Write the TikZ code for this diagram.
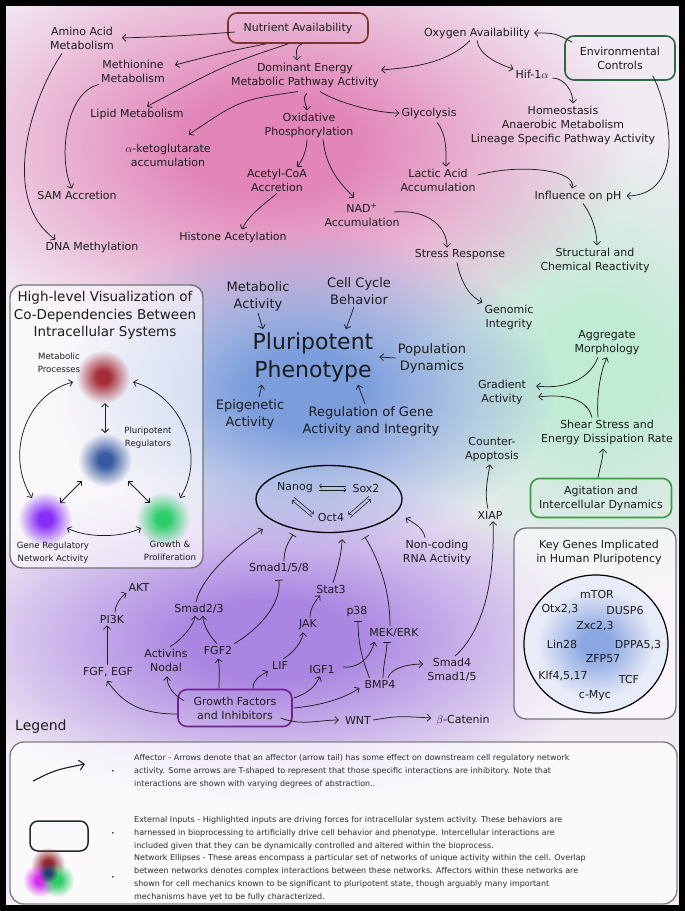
\documentclass[tikz,border=0pt]{standalone}
\usepackage{fontspec}
\setmainfont{DejaVu Sans}
\usetikzlibrary{arrows.meta,fadings,shapes.geometric}
\pgfdeclareradialshading{softsh}{\pgfpointorigin}{rgb(0bp)=(1,1,1); rgb(6bp)=(1,1,1); rgb(25bp)=(0,0,0); rgb(50bp)=(0,0,0)}
\pgfdeclarefading{softc}{\pgfuseshading{softsh}}
\definecolor{bgbase}{RGB}{242,235,244}
\definecolor{pinkc}{RGB}{226,134,185}
\definecolor{bluec}{RGB}{124,158,220}
\definecolor{purpc}{RGB}{170,134,226}
\definecolor{greenc}{RGB}{192,236,212}
\definecolor{txt}{RGB}{28,28,28}
\definecolor{lnc}{RGB}{30,30,30}
\definecolor{nutc}{RGB}{125,50,50}
\definecolor{envc}{RGB}{45,105,65}
\definecolor{gfc}{RGB}{110,35,145}
\definecolor{agc}{RGB}{60,155,65}
\definecolor{panelc}{RGB}{115,115,120}
\definecolor{legtxt}{RGB}{45,45,45}
\definecolor{redbl}{RGB}{165,45,55}
\definecolor{bluebl}{RGB}{55,90,160}
\definecolor{purpbl}{RGB}{135,45,245}
\definecolor{greenbl}{RGB}{45,205,105}
\definecolor{kgblue}{RGB}{140,168,226}
\definecolor{kgbg}{RGB}{232,235,248}
\definecolor{legrect}{RGB}{30,45,35}
\definecolor{magbl}{RGB}{215,40,240}
\newcommand{\fsz}[2]{\fontsize{#1}{#2}\selectfont}
\begin{document}
\begin{tikzpicture}[x=1pt,y=-1pt,
 lbl/.style={font=\fsz{11}{14}, align=center, inner sep=2pt, text=txt},
 midl/.style={font=\fsz{13}{17}, align=center, inner sep=2pt, text=txt},
 sml/.style={font=\fsz{8.6}{13}, align=center, inner sep=1pt, text=txt},
 ttl/.style={font=\fsz{13.5}{17.5}, align=center, inner sep=1pt, text=txt},
 legt/.style={font=\fsz{8}{13}, align=left, anchor=west, inner sep=0pt, text=legtxt},
 ibox/.style={draw=#1, line width=1.6pt, rounded corners=9pt, align=center, font=\fsz{11}{14}, text=txt, inner sep=2pt},
 con/.style={draw=lnc, line width=0.75pt, -{Straight Barb[length=3.5pt,width=7pt]}},
 inh/.style={draw=lnc, line width=0.75pt, -{Bar[width=8pt]}},
 dbl/.style={draw=lnc, line width=0.75pt, {Straight Barb[length=3.5pt,width=7pt]}-{Straight Barb[length=3.5pt,width=7pt]}},
 sm/.style={draw=lnc, line width=0.6pt, -{Straight Barb[length=2.2pt,width=4.5pt]}},
 gene/.style={font=\fsz{11}{14}, inner sep=1pt, text=txt}
]
\useasboundingbox (0,0) rectangle (685,911);
% ---------- background ----------
\begin{scope}
\clip (0,0) rectangle (685,911);
\fill[bgbase] (0,0) rectangle (685,911);
\fill[greenc, path fading=softc] (600,370) ellipse (225 and 235);
\fill[pinkc, path fading=softc] (270,145) ellipse (360 and 215);
\fill[purpc, path fading=softc] (270,640) ellipse (345 and 165);
\fill[bluec, path fading=softc] (305,390) ellipse (250 and 160);
\end{scope}

% ---------- left panel ----------
\draw[draw=panelc, line width=1.4pt, rounded corners=12pt, fill=white, fill opacity=0.6] (10,285) rectangle (203,568);
\node[ttl] (ptitle) at (105,315.5) {High-level Visualization of\\Co-Dependencies Between\\Intracellular Systems};
\coordinate (redb) at (103,377);
\coordinate (blueb) at (105,460);
\coordinate (purpb) at (45,519);
\coordinate (greenb) at (163,519);
\fill[redbl, path fading=softc] (redb) circle (27);
\fill[bluebl, path fading=softc] (blueb) circle (27);
\fill[purpbl, path fading=softc] (purpb) circle (27);
\fill[greenbl, path fading=softc] (greenb) circle (27);
\node[sml] (mp) at (59,363) {Metabolic\\Processes};
\node[sml] (prl) at (148,438) {Pluripotent\\Regulators};
\node[sml] (grn) at (53,553) {Gene Regulatory\\Network Activity};
\node[sml] (gpr) at (170,551) {Growth \&\\Proliferation};
\draw[dbl] ([shift={(2,26)}]redb) -- ([shift={(0,-27)}]blueb);
\draw[dbl] ([shift={(-23,21)}]blueb) -- ([shift={(15,-16)}]purpb);
\draw[dbl] ([shift={(23,21)}]blueb) -- ([shift={(-13,-16)}]greenb);
\draw[dbl] ([shift={(22,9)}]purpb) .. controls +(20,10) and +(-20,10) .. ([shift={(-22,9)}]greenb);
\draw[dbl] ([shift={(-30,5)}]redb) .. controls +(-48,13) and +(-27,-43) .. ([shift={(-13,-21)}]purpb);
\draw[dbl] ([shift={(30,5)}]redb) .. controls +(48,13) and +(27,-43) .. ([shift={(17,-21)}]greenb);

% ---------- key genes panel ----------
\draw[draw=panelc, line width=1.3pt, rounded corners=12pt, fill=white, fill opacity=0.55] (514,528) rectangle (676,719);
\node[lbl] (kgt) at (599,552) {Key Genes Implicated\\in Human Pluripotency};
\coordinate (kgc) at (596,644);
\begin{scope}
\clip (kgc) ellipse (72 and 69);
\fill[kgbg] (kgc) ellipse (72 and 69);
\fill[kgblue, path fading=softc] (kgc) ellipse (58 and 55);
\end{scope}
\draw[black, line width=1.2pt] (kgc) ellipse (72 and 69);
\node[gene] (g1) at (597,594) {mTOR};
\node[gene] (g2) at (560,609) {Otx2,3};
\node[gene] (g3) at (625,610) {DUSP6};
\node[gene] (g4) at (595,626) {Zxc2,3};
\node[gene] (g5) at (562,644) {Lin28};
\node[gene] (g6) at (638,645) {DPPA5,3};
\node[gene] (g7) at (603,659) {ZFP57};
\node[gene] (g8) at (563,676) {Klf4,5,17};
\node[gene] (g9) at (629,679) {TCF};
\node[gene] (g10) at (595,696) {c-Myc};

% ---------- top nodes ----------
\node[ibox=nutc, minimum width=140pt, minimum height=30pt] (nut) at (298,28) {Nutrient Availability};
\node[lbl] (amino) at (82,38) {Amino Acid\\Metabolism};
\node[lbl] (meth) at (133,71) {Methionine\\Metabolism};
\node[lbl] (lipid) at (137,114) {Lipid Metabolism};
\node[lbl] (akg) at (168,155) {$\alpha$-ketoglutarate\\accumulation};
\node[lbl] (sam) at (77,195) {SAM Accretion};
\node[lbl] (dna) at (92,247) {DNA Methylation};
\node[lbl] (dom) at (305,75) {Dominant Energy\\Metabolic Pathway Activity};
\node[lbl] (oxphos) at (309,125) {Oxidative\\Phosphorylation};
\node[lbl] (glyc) at (429,113) {Glycolysis};
\node[lbl] (oxy) at (477,33) {Oxygen Availability};
\node[ibox=envc, minimum width=110pt, minimum height=44pt] (env) at (620,58) {Environmental\\Controls};
\node[lbl] (hif) at (532,74) {Hif-1$\alpha$};
\node[lbl] (homeo) at (563,125) {Homeostasis\\Anaerobic Metabolism\\Lineage Specific Pathway Activity};
\node[lbl] (lactic) at (438,180) {Lactic Acid\\Accumulation};
\node[lbl] (ph) at (578,196) {Influence on pH};
\node[lbl] (acetyl) at (277,180) {Acetyl-CoA\\Accretion};
\node[lbl] (nad) at (362,215) {NAD\textsuperscript{+}\\Accumulation};
\node[lbl] (histone) at (233,237) {Histone Acetylation};
\node[lbl] (stress) at (460,255) {Stress Response};
\node[lbl] (struct) at (595,260) {Structural and\\Chemical Reactivity};
\node[lbl] (genomic) at (509,317) {Genomic\\Integrity};

% ---------- middle ----------
\node[font=\fsz{22}{28}, align=center, inner sep=2pt, text=txt] (pluri) at (313,357) {Pluripotent\\Phenotype};
\node[midl] (metab) at (258,296) {Metabolic\\Activity};
\node[midl] (cell) at (359,291) {Cell Cycle\\Behavior};
\node[midl] (pop) at (432,358) {Population\\Dynamics};
\node[midl] (epi) at (250,414) {Epigenetic\\Activity};
\node[midl] (reg) at (371,421) {Regulation of Gene\\Activity and Integrity};

% ---------- right ----------
\node[lbl] (aggr) at (607,343) {Aggregate\\Morphology};
\node[lbl] (grad) at (502,392) {Gradient\\Activity};
\node[lbl] (shear) at (607,432) {Shear Stress and\\Energy Dissipation Rate};
\node[ibox=agc, minimum width=141pt, minimum height=39pt] (agit) at (601,498) {Agitation and\\Intercellular Dynamics};
\node[lbl] (counter) at (492,450) {Counter-\\Apoptosis};
\node[lbl] (xiap) at (490,515) {XIAP};
\node[lbl] (ncrna) at (437,552) {Non-coding\\RNA Activity};

% ---------- core ellipse ----------
\node[ellipse, draw=black, line width=1.3pt, minimum width=146pt, minimum height=67pt, inner sep=0pt] (ell) at (329,499) {};
\node[lbl] (nanog) at (295,488) {Nanog};
\node[lbl] (sox2) at (366,488) {Sox2};
\node[lbl] (oct4) at (331,517) {Oct4};

% ---------- signalling ----------
\node[lbl] (smad158) at (279,568) {Smad1/5/8};
\node[lbl] (stat3) at (331,589) {Stat3};
\node[lbl] (smad23) at (199,609) {Smad2/3};
\node[lbl] (jak) at (308,625) {JAK};
\node[lbl] (p38) at (357,612) {p38};
\node[lbl] (mek) at (394,633) {MEK/ERK};
\node[lbl] (activ) at (166,660) {Activins\\Nodal};
\node[lbl] (fgf2) at (218,650) {FGF2};
\node[lbl] (lif) at (280,665) {LIF};
\node[lbl] (igf1) at (322,669) {IGF1};
\node[lbl] (bmp4) at (380,684) {BMP4};
\node[lbl] (smad4) at (452,670) {Smad4\\Smad1/5};
\node[lbl] (fgfegf) at (108,672) {FGF, EGF};
\node[lbl] (pi3k) at (112,619) {PI3K};
\node[lbl] (akt) at (139,587) {AKT};
\node[ibox=gfc, minimum width=114pt, minimum height=37pt] (gf) at (235,708) {Growth Factors\\and Inhibitors};
\node[lbl] (wnt) at (358,720) {WNT};
\node[lbl] (beta) at (463,720) {$\beta$-Catenin};

% ---------- connectors: top ----------
\draw[con] ([shift={(8,4)}]nut.west) .. controls (180,36) .. ([shift={(6,0)}]amino.east);
\draw[con] ([shift={(39,0)}]nut.south west) .. controls (225,52) .. ([shift={(8,-6)}]meth.east);
\draw[con] ([shift={(61,0)}]nut.south west) .. controls (225,65) .. ([shift={(10,0)}]lipid.north);
\draw[con] ([shift={(4,0)}]nut.south) .. controls +(-8,4) and +(0,-8) .. ([shift={(-8,0)}]dom.north);
\draw[con] ([shift={(-20,2)}]amino.south) .. controls (30,100) and (0,200) .. ([shift={(12,0)}]dna.north west);
\draw[con] (meth.south west) .. controls (65,92) and (58,160) .. ([shift={(-5,0)}]sam.north);
\draw[con] ([shift={(-7,2)}]dom.south) .. controls (240,100) .. ([shift={(-24,-7)}]akg.north east);
\draw[con] ([shift={(2,4)}]dom.south) .. controls +(-6,4) and +(0,-5) .. ([shift={(-2,0)}]oxphos.north);
\draw[con] ([shift={(15,2)}]dom.south) .. controls +(15,10) and +(-25,0) .. (glyc.west);
\draw[con] ([shift={(-7,0)}]oxy.south) .. controls +(-20,20) and +(40,-3) .. ([shift={(0,-5)}]dom.east);
\draw[con] (oxy.south) .. controls +(2,15) and +(-15,-5) .. ([shift={(0,-5)}]hif.west);
\draw[con] ([shift={(8,7)}]env.north west) .. controls (555,33) .. ([shift={(2,0)}]oxy.east);
\draw[con] ([shift={(-23,-5)}]env.south east) .. controls (670,110) and (687,195) .. ([shift={(3,0)}]ph.east);
\draw[con] ([shift={(2,4)}]hif.east) .. controls +(12,0) and +(0,-12) .. ([shift={(10,0)}]homeo.north);
\draw[con] ([shift={(-2,0)}]oxphos.south) .. controls +(0,10) and +(5,-5) .. ([shift={(20,0)}]acetyl.north);
\draw[con] ([shift={(14,0)}]oxphos.south) .. controls +(3,30) and +(-12,-12) .. ([shift={(-8,-4)}]nad.north);
\draw[con] ([shift={(8,2)}]glyc.south) .. controls +(10,12) and +(0,-15) .. ([shift={(8,0)}]lactic.north);
\draw[con] ([shift={(0,-5)}]lactic.east) .. controls +(45,-12) and +(5,-18) .. ([shift={(-6,0)}]ph.north);
\draw[con] (acetyl.south) .. controls +(-15,12) and +(5,-12) .. ([shift={(9,0)}]histone.north);
\draw[con] ([shift={(32,-3)}]nad.center) .. controls +(35,-3) and +(0,-20) .. ([shift={(-13,0)}]stress.north);
\draw[con] ([shift={(5,0)}]ph.south) .. controls +(8,10) and +(0,-15) .. ([shift={(2,0)}]struct.north);
\draw[con] ([shift={(-3,0)}]stress.south) .. controls +(5,25) and +(-10,-5) .. (genomic.north west);

% ---------- connectors: phenotype ----------
\draw[con] (metab.south) -- ([shift={(-50,-1)}]pluri.north);
\draw[con] ([shift={(-5,0)}]cell.south) -- ([shift={(33,-1)}]pluri.north);
\draw[con] (pop.west) -- ([shift={(4,0)}]pluri.east);
\draw[con] ([shift={(9,0)}]epi.north) -- ([shift={(-51,1)}]pluri.south);
\draw[con] ([shift={(-6,0)}]reg.north) -- ([shift={(45,1)}]pluri.south);

% ---------- connectors: right ----------
\draw[con] ([shift={(-9,0)}]shear.north) .. controls +(-2,-25) and +(-5,10) .. (aggr.south);
\draw[con] ([shift={(-15,0)}]shear.north) .. controls +(-5,-20) and +(25,-3) .. ([shift={(10,5)}]grad.east);
\draw[con] ([shift={(-9,0)}]aggr.south) .. controls +(-10,25) and +(25,3) .. ([shift={(8,-6)}]grad.east);
\draw[con] ([shift={(-3,0)}]agit.north) .. controls +(3,-15) and +(0,10) .. ([shift={(-4,2)}]shear.south);
\draw[con] ([shift={(-2,0)}]xiap.north) .. controls +(-4,-15) and +(-2,12) .. ([shift={(-2,0)}]counter.south);
\draw[con] ([shift={(3,0)}]smad4.north) .. controls +(28,-25) and +(2,60) .. ([shift={(3,0)}]xiap.south);
\draw[con] ([shift={(-12,0)}]ncrna.north) .. controls +(-2,-10) and +(8,5) .. ([shift={(3,19)}]ell.east);

% ---------- connectors: ellipse ----------
\draw[con] ([shift={(-3,0)}]smad23.north) .. controls +(5,-25) and +(-25,15) .. ([shift={(-14,6)}]ell.south west);
\draw[inh] ([shift={(5,0)}]smad158.north) .. controls +(0,-12) and +(-5,8) .. ([shift={(-36,1.5)}]ell.south);
\draw[con] ([shift={(2,0)}]stat3.north) .. controls +(5,-15) and +(0,12) .. ([shift={(13,6)}]ell.south);
\draw[inh] ([shift={(-4,0)}]mek.north) .. controls +(0,-40) and +(12,20) .. ([shift={(36,4)}]ell.south);
\draw[sm] ([shift={(-4,-2)}]sox2.west) -- ([shift={(4,-2)}]nanog.east);
\draw[sm] ([shift={(4,2)}]nanog.east) -- ([shift={(-4,2)}]sox2.west);
\draw[sm] ([shift={(-1,2)}]nanog.south) -- ([shift={(-2,-3)}]oct4.west);
\draw[sm] ([shift={(-4,0)}]oct4.west) -- ([shift={(-3,5)}]nanog.south);
\draw[sm] ([shift={(3,2)}]sox2.south) -- ([shift={(2,-2.4)}]oct4.east);
\draw[sm] ([shift={(4,0.4)}]oct4.east) -- ([shift={(5,4.8)}]sox2.south);

% ---------- connectors: signalling ----------
\draw[inh] (fgf2.north east) .. controls +(25,-15) and +(2,25) .. ([shift={(0,5)}]smad158.south);
\draw[con] ([shift={(4,0)}]activ.north) .. controls +(10,-5) and +(0,8) .. ([shift={(-4,0)}]smad23.south);
\draw[con] ([shift={(-1,0)}]fgf2.north) .. controls +(-8,-8) and +(0,8) .. ([shift={(4,0)}]smad23.south);
\draw[con] ([shift={(2,0)}]jak.north) .. controls +(0,-10) and +(-4,5) .. ([shift={(-11,0)}]stat3.south);
\draw[con] ([shift={(3,0)}]lif.north) .. controls +(10,-5) and +(0,8) .. ([shift={(-5,0)}]jak.south);
\draw[con] ([shift={(7,12)}]gf.north west) .. controls +(-10,-5) and +(0,10) .. ([shift={(1,3)}]activ.south);
\draw[con] ([shift={(0,6)}]gf.west) .. controls +(-40,0) and +(15,20) .. ([shift={(-1,2)}]fgfegf.south);
\draw[con] ([shift={(-16,0)}]gf.north) .. controls +(0,-10) and +(2,10) .. ([shift={(0,2)}]fgf2.south);
\draw[con] ([shift={(18,0)}]gf.north) .. controls +(0,-10) and +(-8,5) .. ([shift={(-2,0)}]lif.south west);
\draw[con] ([shift={(1,-10)}]gf.east) .. controls +(15,-5) and +(-5,10) .. ([shift={(-2,1)}]igf1.south);
\draw[con] ([shift={(1,0)}]gf.east) .. controls +(30,-3) and +(-15,10) .. ([shift={(-3,4)}]bmp4.west);
\draw[con] ([shift={(-12,10)}]gf.east) .. controls +(20,8) and +(-20,0) .. ([shift={(-4,0)}]wnt.west);
\draw[con] (wnt.east) .. controls +(25,-4) .. ([shift={(-3,-2)}]beta.west);
\draw[con] ([shift={(-1,0)}]fgfegf.north) -- ([shift={(-5,0)}]pi3k.south);
\draw[con] ([shift={(3,0)}]pi3k.north) .. controls +(0,-8) and +(-5,3) .. (akt.south west);
\draw[con] ([shift={(6,-2)}]igf1.east) .. controls +(20,2) and +(-2,10) .. ([shift={(7,2)}]mek.south west);
\draw[inh] ([shift={(7,0)}]bmp4.north west) .. controls +(-8,-20) and +(0,20) .. ([shift={(1,2)}]p38.south);
\draw[inh] ([shift={(3,0)}]bmp4.north) .. controls +(0,-12) and +(0,10) .. ([shift={(-7,2)}]mek.south);
\draw[con] ([shift={(8,0)}]bmp4.north) .. controls +(3,-10) and +(-15,0) .. ([shift={(-2,-6)}]smad4.west);

% ---------- legend ----------
\node[font=\fsz{14}{17}, anchor=west, inner sep=0pt, text=txt] (legtitle) at (15,727) {Legend};
\draw[draw=panelc!90, line width=1.4pt, rounded corners=14pt, fill=white, fill opacity=0.7] (10,742) rectangle (677,904);
\coordinate (la1) at (33,781);
\coordinate (la2) at (85,764);
\draw[lnc, line width=1.1pt, -{Straight Barb[length=5pt,width=10pt]}] (la1) .. controls (55,770) .. (la2);
\node[draw=legrect, line width=1.5pt, rounded corners=8pt, minimum width=58pt, minimum height=30pt] (lrect) at (59,836) {};
\fill[redbl!90!black, path fading=softc] (48,864) circle (17);
\fill[magbl, path fading=softc] (40,880) circle (17);
\fill[greenbl, path fading=softc] (57,880) circle (17);
\fill[bluebl!70!black, path fading=softc] (48,873) circle (10);
\node[font=\fsz{6}{7}, text=legtxt] (b1) at (113,772) {\textbullet};
\node[font=\fsz{6}{7}, text=legtxt] (b2) at (113,834) {\textbullet};
\node[font=\fsz{6}{7}, text=legtxt] (b3) at (113,878) {\textbullet};
\node[legt] (l1) at (134,771.5) {Affector - Arrows denote that an affector (arrow tail) has some effect on downstream cell regulatory network\\activity. Some arrows are T-shaped to represent that those specific interactions are inhibitory. Note that\\interactions are shown with varying degrees of abstraction..};
\node[legt] (l2) at (134,833.5) {External Inputs - Highlighted inputs are driving forces for intracellular system activity. These behaviors are\\harnessed in bioprocessing to artificially drive cell behavior and phenotype. Intercellular interactions are\\included given that they can be dynamically controlled and altered within the bioprocess.};
\node[legt] (l3) at (134,878) {Network Ellipses - These areas encompass a particular set of networks of unique activity within the cell. Overlap\\between networks denotes complex interactions between these networks. Affectors within these networks are\\shown for cell mechanics known to be significant to pluripotent state, though arguably many important\\mechanisms have yet to be fully characterized.};

% ---------- frame ----------
\draw[black, line width=6pt] (3,3) rectangle (682,908);
\end{tikzpicture}
\end{document}
